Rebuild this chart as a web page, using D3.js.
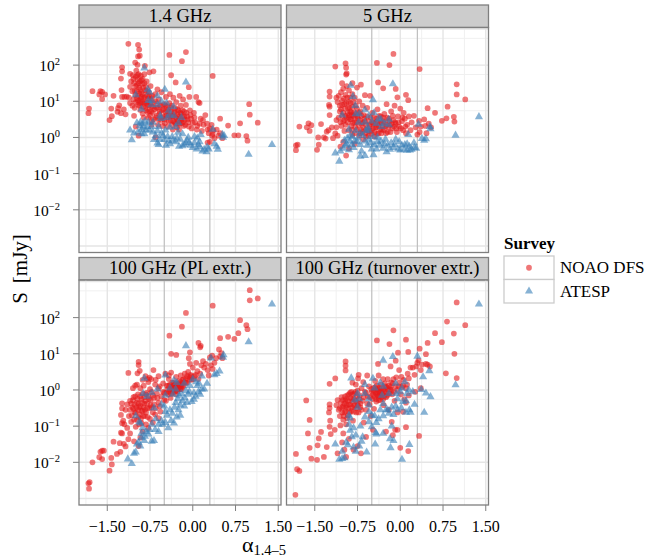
<!DOCTYPE html>
<html>
<head>
<meta charset="utf-8">
<script src="https://d3js.org/d3.v7.min.js"></script>
<style>
  html, body { margin: 0; padding: 0; background: #fff; }
  text { font-family: "Liberation Serif", serif; fill: #000; }
</style>
</head>
<body>
<div id="chart"></div>
<script>
// Every point is [spectral index alpha, log10 of S in mJy]
const noao14 = [[-1.13,2.59],[-0.96,2.56],[-0.94,2.43],[-0.93,2.26],[-0.96,2.24],[-0.41,2.28],[-0.12,2.36],[-0.19,2.11],[-1.01,2.07],[-0.97,2.01],[-1.24,1.94],[-0.84,1.98],[-1.24,1.83],[-0.69,1.83],[-0.76,1.8],[-0.38,1.72],[0.35,1.7],[-1.1,1.76],[-1.26,1.63],[-0.3,1.52],[-0.07,1.39],[-1.25,1.31],[-1.76,1.28],[-1.62,1.28],[-1.59,1.26],[-1.64,1.19],[-1.54,1.19],[-1.39,1.15],[-1.59,1.06],[-1.82,0.8],[-1.83,0.67],[-1.43,0.8],[-1.42,0.59],[-1.46,0.48],[-1.29,0.89],[-1.31,0.81],[-1.32,0.71],[-1.26,0.67],[-1.18,0.64],[-1.21,0.78],[0.99,0.92],[1,0.63],[1.14,0.41],[0.83,0.39],[0.62,0.33],[0.48,0.52],[0.8,0.06],[0.73,0.06],[0.94,0.04],[0.96,-0.09],
[-1.24,1.12],[-1.2,1.12],[-1.16,1.13],[-1.12,1.1],[-1.1,1.4],[-1.08,1.55],[-1.05,1.72],[-1.03,1.5],[-1.02,1.3],[-1,1.68],[-0.99,1.85],[-0.98,1.45],[-0.97,1.6],[-0.96,1.15],[-0.95,1.75],[-0.94,1.38],[-0.93,1.55],[-0.92,0.95],[-0.91,1.7],[-0.9,1.25],[-0.89,1.48],[-0.88,1.62],[-0.87,0.85],[-0.86,1.1],[-0.85,1.75],[-1.1,0.95],[-1.06,0.88],[-1.04,1.05],[-1.02,0.82],[-1,0.97],[-0.98,1.08],[-0.96,0.9],[-0.94,1.02],[-0.92,0.76],[-0.9,1.12],[-0.88,0.66],[-0.84,0.98],[-0.83,1.3],[-0.82,0.75],[-0.81,1.55],[-0.8,1.15],[-0.79,0.9],[-0.78,0.55],[-0.77,1.25],[-0.76,0.72],[-0.75,1.05],[-0.74,1.42],[-0.73,0.85],[-0.72,0.45],[-0.71,1.15],[-0.7,0.68],[-0.68,0.95],[-0.66,1.2],[-0.65,0.55],[-0.64,0.82],[-0.62,1.33],[-0.61,0.35],[-0.6,1.05],[-0.59,0.65],[-0.58,0.9],[-0.56,0.48],[-0.55,1.25],[-0.54,0.75],[-0.52,0.58],[-0.5,0.92],[-0.49,0.4],[-0.48,0.7],[-0.47,1.12],[-0.46,0.85],[-0.45,0.55],[-0.44,0.3],[-0.43,0.78],[-0.42,0.62],[-0.41,0.95],[-0.4,1.2],[-0.39,0.47],[-0.38,0.72],[-0.37,0.88],[-0.36,0.35],[-0.35,0.58],[-0.34,1.1],[-0.33,0.68],[-0.32,0.42],[-0.31,0.82],[-0.3,0.55],[-0.29,0.98],[-0.28,0.28],[-0.27,0.63],[-0.26,0.45],[-0.25,0.75],[-0.24,0.36],[-0.23,1.15],[-0.22,0.52],[-0.21,0.88],[-0.2,0.66],[-0.19,0.4],[-0.18,0.58],[-0.17,1.05],[-0.16,0.32],[-0.15,0.72],[-0.14,0.5],[-0.12,0.9],[-0.1,0.58],[-0.08,0.42],[-0.06,1.12],[-0.05,0.75],[-0.03,0.52],[-0.02,0.25],[0.02,0.68],[0.04,0.42],[0.06,1.12],[0.08,0.32],[0.1,0.98],[0.12,0.95],[0.14,0.52],[0.16,0.18],[0.19,0.35],[0.22,0.62],[0.25,0.38],[0.28,0.12],[0.3,0.25],[0.33,0.35],[0.36,0.2],[0.34,0.05],[0.38,-0.02],[0.42,0.22],[0.45,0.05],[0.48,0.12],[0.52,-0.02],[0.3,-0.12],[0.26,-0.14],[-0.65,0.0],[-0.95,0.05],[-1,0.3],[-1.03,0.6]];
const noao14Core = [[-1.06,1.28],[-1.04,1.62],[-1.01,1.18],[-1,1.42],[-0.98,1.28],[-0.97,1.72],[-0.96,1.02],[-0.95,1.5],[-0.94,1.22],[-0.93,0.88],[-0.92,1.32],[-0.91,1.08],[-0.9,1.58],[-0.89,0.98],[-0.88,1.2],[-0.87,1.38],[-0.86,0.94],[-0.85,1.5],[-0.84,1.12],[-0.83,0.82],[-0.82,1.4],[-0.81,0.96],[-0.8,1.28],[-0.79,0.7],[-0.78,1.08],[-0.77,0.88],[-0.76,1.15],[-0.75,0.6],[-0.74,0.95],[-0.73,0.72],[-0.72,1.08],[-0.7,0.85],[-0.69,0.5],[-0.67,0.78],[-0.65,1.0],[-0.63,0.6],[-0.62,0.82],[-0.6,0.5],[-0.58,0.72],[-0.56,0.88],[-0.54,0.55],[-0.52,0.78],[-0.5,0.5],[-0.48,0.88],[-0.46,0.62],[-0.44,0.72],[-0.42,0.45],[-0.4,0.58],[-0.38,0.82],[-0.36,0.6],[-0.34,0.45],[-0.32,0.7],[-0.3,0.38],[-0.28,0.52],[-0.27,0.78],[-0.25,0.58],[-0.23,0.4],[-0.22,0.68],[-0.2,0.48],[-0.18,0.75],[-0.17,0.42],[-0.15,0.58],[-0.13,0.35],[-0.11,0.68],[-0.09,0.5],[-0.07,0.3],[-0.04,0.62],[0,0.4],[0.03,0.55],[0.07,0.22],[0.12,0.38],[0.18,0.48],[0.26,0.22],[0.35,0.1],[-0.86,0.55],[-0.72,0.35],[-0.53,0.32],[-0.35,0.22],[-0.24,0.22]];
const atesp14 = [[1.39,-0.2],[0.98,-0.47],[-0.12,1.53],[-0.49,1.33],[-0.85,1.92],[-0.79,1.33],[-0.76,1.25],[-1,1.18],[-0.78,1.02],[-0.72,1.02],[-0.62,1.15],[-0.55,1.0],[-0.9,0.78],[-0.73,0.9],[-0.62,0.9],[-0.46,0.95],[-0.34,0.85],[-0.42,0.75],[-0.57,0.6],[-0.56,0.52],[-0.33,0.6],[-0.2,0.55],[-0.98,0.4],[-0.93,0.33],[-0.88,0.38],[-0.84,0.45],[-0.8,0.3],[-0.76,0.2],[-0.7,0.15],[-1.1,0.2],[-1.03,0.12],[-0.96,0.15],[-0.9,0.22],[-0.85,0.1],[-1.07,-0.07],[-0.62,0.18],[-0.55,0.12],[-0.68,-0.06],[-0.62,-0.16],[-0.6,-0.2],[-0.5,-0.06],[-0.47,-0.22],[-0.42,-0.1],[-0.36,0.02],[-0.4,-0.18],[-0.3,-0.12],[-0.26,0.14],[-0.22,-0.05],[-0.18,-0.23],[-0.24,-0.25],[-0.12,-0.16],[-0.08,0.0],[-0.04,-0.22],[0,-0.28],[0.03,-0.15],[0.07,-0.32],[0.12,-0.26],[0.14,0.08],[0.12,-0.12],[0.17,-0.38],[0.2,-0.33],[0.25,-0.27],[0.24,-0.4],[0.28,-0.32],[0.35,0.22],[0.38,-0.18],[0.42,-0.25],[0.44,-0.33],[0.52,0.08],[0.53,0.0],[0.55,0.05],[-0.78,0.42],[-0.7,0.42],[-0.6,0.3],[-0.48,0.2],[-0.4,0.28],[-0.92,0.42],[-0.87,0.28],[-0.82,0.2],[-0.9,0.1],[-0.72,0.3],[-0.65,0.05],[-0.58,-0.05],[-0.52,0.05],[-0.44,0.02],[-0.35,-0.08],[-0.28,-0.02],[-0.18,0.1],[-0.1,-0.08],[-0.15,-0.2],[-0.06,-0.14],[0.03,0.02],[0.1,-0.2],[0.08,-0.02],[-0.3,0.3],[-0.25,0.4],[-0.45,0.55],[-0.4,0.62]];
const noao5 = [[-0.12,2.31],[-0.41,2.06],[-0.19,2],[0.34,1.89],[-0.96,2.05],[-1.14,1.96],[-0.95,1.93],[-0.94,1.77],[-0.95,1.74],[-0.39,1.52],[-1.02,1.5],[-0.3,1.36],[-0.08,1.34],[-0.84,1.5],[-0.69,1.46],[-0.76,1.38],[-1.24,1.27],[-1.24,1.13],[-0.62,1.17],[-0.53,1.15],[0.99,1.47],[0.99,1.19],[1.14,1.05],[0.83,0.85],[0.48,0.81],[0.61,0.68],[0.1,1.18],[0.14,1.03],[-0.05,1.11],[0.94,0.57],[0.95,0.44],[0.81,0.53],[0.73,0.46],[-1.77,0.3],[-1.61,0.39],[-1.56,0.34],[-1.64,0.28],[-1.59,0.18],[-1.39,0.37],[-1.83,-0.22],[-1.8,-0.2],[-1.83,-0.35],[-1.46,-0.34],[-1.43,-0.2],[-1.44,0],[-1.34,0],[-1.29,0.16],[-1.31,-0.03],[-1.18,-0.02],[-1.14,0.11],[-1.24,0.62],[-1.25,0.9],[-1.24,0.85],[-1.2,0.28],[-1.26,0.2],[-1.12,0.48],
[-1.12,1.1],[-1.1,0.98],[-1.08,1.15],[-1.06,0.88],[-1.04,1.25],[-1.02,1.02],[-1,1.35],[-0.98,0.92],[-0.96,1.18],[-0.94,1.42],[-0.92,0.82],[-0.9,1.3],[-0.88,1.1],[-0.86,0.7],[-0.84,1.2],[-1.08,0.55],[-1.05,0.42],[-1.03,0.32],[-1.02,0.6],[-1,0.45],[-0.98,0.18],[-0.96,0.35],[-0.94,0.55],[-0.92,0.42],[-0.9,0.2],[-0.88,0.5],[-0.86,0.32],[-0.84,0.08],[-0.82,0.6],[-0.8,0.42],[-0.78,0.88],[-0.76,0.22],[-0.74,0.52],[-0.72,0.05],[-0.7,0.72],[-0.68,0.38],[-0.66,0.15],[-0.64,0.62],[-0.62,0.45],[-0.6,0.22],[-0.58,0.82],[-0.56,0.05],[-0.54,0.35],[-0.52,0.55],[-0.5,0.18],[-0.49,0.68],[-0.47,0.4],[-0.45,0.02],[-0.43,0.28],[-0.42,0.52],[-0.4,0.78],[-0.38,0.12],[-0.36,0.38],[-0.34,0.58],[-0.32,0.22],[-0.3,0.45],[-0.28,0.65],[-0.26,0.3],[-0.24,0.92],[-0.22,0.15],[-0.2,0.52],[-0.18,0.35],[-0.16,0.72],[-0.14,0.25],[-0.12,0.48],[-0.1,0.88],[-0.08,0.38],[-0.06,0.15],[-0.04,0.58],[-0.02,0.3],[0,0.8],[0.03,0.45],[0.05,0.2],[0.06,0.68],[0.08,0.52],[0.1,0.12],[0.12,0.35],[0.15,0.58],[0.18,0.2],[0.2,0.42],[0.24,0.6],[0.27,0.28],[0.3,0.08],[0.33,0.46],[0.36,0.3],[0.34,0.15],[0.42,0.5],[0.44,0.32],[0.46,0.12],[0.5,0.38],[0.54,0.28],[-0.65,-0.05],[-0.9,-0.3],[-1,-0.12],[-1.05,-0.25],[-0.95,-0.5],[-0.8,-0.18],[-0.6,0.02],[-1.1,0.05],[-1.12,0.28],[-1.06,0.72],[-0.88,0.72],[-0.8,1.1],[-0.72,1.0],[-0.66,0.88]];
const noao5Core = [[-1.04,0.78],[-1.02,0.9],[-1,0.68],[-0.99,1.08],[-0.97,0.8],[-0.96,0.6],[-0.95,0.95],[-0.93,1.1],[-0.92,0.68],[-0.91,0.98],[-0.9,0.55],[-0.89,0.82],[-0.87,0.95],[-0.86,0.5],[-0.85,0.62],[-0.84,0.85],[-0.83,0.4],[-0.82,0.98],[-0.81,0.7],[-0.8,0.55],[-0.79,0.28],[-0.78,0.65],[-0.77,0.42],[-0.76,0.8],[-0.75,0.58],[-0.73,0.35],[-0.72,0.68],[-0.71,0.48],[-0.69,0.22],[-0.68,0.6],[-0.66,0.42],[-0.65,0.28],[-0.63,0.52],[-0.61,0.12],[-0.6,0.35],[-0.58,0.58],[-0.57,0.2],[-0.55,0.45],[-0.53,0.3],[-0.51,0.1],[-0.49,0.42],[-0.48,0.25],[-0.46,0.55],[-0.45,0.15],[-0.44,0.38],[-0.42,0.28],[-0.41,0.1],[-0.4,0.45],[-0.38,0.32],[-0.37,0.6],[-0.35,0.22],[-0.34,0.42],[-0.33,0.12],[-0.31,0.32],[-0.3,0.55],[-0.29,0.2],[-0.27,0.42],[-0.25,0.12],[-0.24,0.35],[-0.23,0.55],[-0.21,0.28],[-0.19,0.45],[-0.17,0.15],[-0.15,0.38],[-0.13,0.6],[-0.11,0.3],[-0.09,0.42],[-0.07,0.25],[-0.03,0.42],[0.01,0.25],[0.04,0.55],[0.09,0.3],[-0.98,0.48],[-0.9,0.62],[-0.85,0.22],[-0.8,0.12],[-0.7,0.12],[-0.55,0.18]];
const atesp5 = [[1.38,0.57],[0.97,0.06],[-0.13,1.48],[-0.48,1.04],[-0.87,1.44],[-0.83,1.13],[-0.79,0.88],[-1.02,0.62],[-0.78,0.65],[-0.72,0.65],[-0.62,0.76],[-0.55,0.6],[-0.9,0.22],[-0.73,0.42],[-0.62,0.42],[-0.46,0.68],[-0.34,0.5],[-0.42,0.38],[-0.57,0.28],[-0.56,0.2],[-0.33,0.3],[-0.2,0.35],[-0.98,-0.08],[-0.93,-0.02],[-0.88,0.05],[-0.84,0.02],[-0.8,-0.1],[-0.76,-0.12],[-0.7,-0.2],[-1.14,-0.43],[-1.05,-0.38],[-0.96,-0.22],[-0.9,-0.34],[-0.85,-0.2],[-1.07,-0.66],[-0.62,-0.1],[-0.55,-0.05],[-0.68,-0.38],[-0.62,-0.5],[-0.7,-0.52],[-0.5,-0.32],[-0.47,-0.48],[-0.42,-0.32],[-0.36,-0.22],[-0.4,-0.12],[-0.3,-0.3],[-0.26,-0.05],[-0.22,-0.22],[-0.18,-0.33],[-0.24,-0.4],[-0.12,-0.28],[-0.08,-0.05],[-0.04,-0.32],[0,-0.35],[0.03,-0.22],[0.07,-0.33],[0.12,-0.36],[0.14,0.08],[0.12,-0.18],[0.17,-0.35],[0.2,-0.33],[0.25,-0.28],[0.24,-0.15],[0.28,-0.3],[0.32,0.36],[0.38,-0.03],[0.42,-0.08],[0.45,-0.04],[0.52,0.3],[0.53,0.24],[-0.78,0.18],[-0.7,0.12],[-0.6,0.18],[-0.48,0.02],[-0.4,0.0],[-1,-0.3],[-0.94,-0.18],[-0.88,-0.1],[-0.82,-0.28],[-0.74,-0.02],[-0.66,0.05],[-0.58,-0.22],[-0.52,-0.15],[-0.46,-0.2],[-0.34,-0.1],[-0.28,-0.18],[-0.16,-0.15],[-0.1,-0.2],[-0.02,-0.12],[0.08,-0.2],[0.16,-0.25],[-0.28,0.38],[-0.2,0.5],[-0.38,0.52],[-0.5,0.45]];
const noaoPL = [[1,2.76],[1,2.48],[1.14,2.53],[0.35,2.33],[-0.12,2.13],[0.83,1.93],[-0.19,1.75],[0.94,1.79],[0.96,1.68],[0.8,1.57],[-0.41,1.5],[0.62,1.47],[0.48,1.43],[0.73,1.41],[0.1,1.3],[0.14,1.22],[0.13,1.18],[-0.38,1],[-0.29,0.97],[-0.05,1.04],[-0.07,0.88],[-0.95,0.78],[-0.95,0.69],[-0.93,0.53],[-1.13,0.47],[-0.97,0.46],[-0.69,0.55],[-0.83,0.38],[-0.76,0.34],[-0.73,0.3],[-1.83,-2.58],[-1.82,-2.73],[-1.81,-2.55],[-1.46,-2.23],[-1.42,-2.06],[-1.43,-1.88],[-1.76,-2],[-1.64,-1.86],[-1.59,-1.91],[-1.62,-1.71],[-1.59,-1.68],[-1.56,-1.68],[-1.39,-1.43],[-1.33,-1.77],[-1.27,-1.71],[-1.28,-1.47],[-1.18,-1.56],[-1.21,-1.49],[-1.13,-1.36],[-1.24,-1.2],[-1.24,-0.92],[-1.26,-0.69],[-1.24,-0.37],[-1.24,-0.51],
[-1.26,-1.18],[-1.2,-0.95],[-1.18,-0.55],[-1.15,-0.4],[-1.12,-0.72],[-1.1,-0.3],[-1.08,-0.88],[-1.06,-0.48],[-1.04,-0.2],[-1.02,-0.62],[-1,-1.02],[-0.98,-0.35],[-0.96,-0.12],[-1.01,0.12],[-0.95,-0.75],[-0.94,-0.48],[-0.92,0.05],[-0.9,-0.92],[-0.9,-0.25],[-0.88,-0.58],[-0.86,0.12],[-0.85,-0.38],[-0.84,-0.72],[-0.82,-0.12],[-0.8,-0.5],[-0.78,0.22],[-0.77,-0.25],[-0.75,-0.8],[-0.74,-0.42],[-0.72,-0.05],[-0.7,-0.62],[-0.68,-0.22],[-0.66,0.15],[-0.65,-0.5],[-0.63,-0.1],[-0.6,-0.35],[-0.58,0.1],[-0.57,-0.6],[-0.55,-0.18],[-0.52,0.18],[-0.5,-0.08],[-0.48,0.45],[-0.47,-0.3],[-0.45,0.12],[-0.43,-0.12],[-0.42,0.3],[-0.4,0.02],[-0.39,-0.22],[-0.38,0.48],[-0.36,0.1],[-0.35,-0.02],[-0.33,0.2],[-0.31,0.08],[-0.3,-0.12],[-0.29,0.36],[-0.28,0],[-0.26,0.14],[-0.24,0.25],[-0.22,0.02],[-0.21,0.4],[-0.2,0.15],[-0.18,0.08],[-0.16,0.3],[-0.14,0.45],[-0.12,0.2],[-0.1,0.38],[-0.08,0.5],[-0.06,0.35],[-0.05,0.72],[-0.04,0.42],[-0.02,0.28],[0,0.62],[0.03,0.38],[0.06,0.75],[0.08,0.52],[0.1,0.3],[0.13,0.45],[0.15,0.68],[0.18,0.8],[0.2,0.62],[0.23,0.72],[0.26,0.55],[0.28,0.4],[0.3,0.9],[0.32,0.68],[0.34,0.95],[0.35,0.58],[0.38,0.75],[0.41,0.88],[0.46,1.12],[0.48,0.93],[0.5,1.02],[0.52,0.88],[-0.88,-1.15],[-0.82,-0.95],[-0.92,-1.32],[-0.78,-1.05],[-1.03,-1.42],[-0.95,-1.55],[-1.1,-1.2],[-0.7,-0.9],[-0.6,-0.78],[-1.15,-1.05],[-1.22,-0.85],[-1.05,0.05],[-0.98,0.15],[-0.88,0.28],[-0.8,0.3],[-0.65,0.28],[-0.6,0.38],[-0.42,0.4]];
const noaoPLCore = [[-1.1,-0.55],[-1.08,-0.38],[-1.07,-0.7],[-1.05,-0.28],[-1.04,-0.52],[-1.03,-0.82],[-1.02,-0.4],[-1.01,-0.18],[-1,-0.62],[-0.99,-0.48],[-0.98,-0.82],[-0.97,-0.25],[-0.96,-0.55],[-0.95,-0.38],[-0.94,-0.95],[-0.93,-0.68],[-0.92,-0.18],[-0.92,-0.45],[-0.91,-0.8],[-0.9,-0.58],[-0.89,-0.35],[-0.88,-0.1],[-0.87,-0.72],[-0.86,-0.48],[-0.85,-0.2],[-0.84,-0.55],[-0.83,-0.3],[-0.82,-0.62],[-0.81,-0.08],[-0.8,-0.38],[-0.79,-0.75],[-0.78,-0.18],[-0.76,-0.5],[-0.75,0.02],[-0.74,-0.28],[-0.72,-0.48],[-0.7,-0.15],[-0.68,-0.4],[-0.66,-0.68],[-0.62,-0.22],[-0.6,0.05],[-0.58,-0.45],[-0.52,-0.05],[-0.5,-0.28],[-0.46,-0.08],[-0.44,0.02],[-0.43,0.12],[-0.41,-0.05],[-0.4,0.15],[-0.38,-0.1],[-0.37,0.05],[-0.36,0.2],[-0.35,-0.08],[-0.34,0.1],[-0.33,0.02],[-0.32,0.14],[-0.31,-0.04],[-0.3,0.06],[-0.29,0.18],[-0.28,0.1],[-0.27,-0.04],[-0.26,0.05],[-0.25,0.16],[-0.24,0.02],[-0.23,0.12],[-0.22,0.22],[-0.21,0.08],[-0.2,0.02],[-0.19,0.18],[-0.18,0.28],[-0.16,0.12],[-0.14,0.22],[-0.12,0.32],[-0.1,0.2],[-0.06,0.28],[-0.03,0.38],[0.01,0.3],[0.05,0.42]];
const atespPL = [[1.39,2.37],[0.98,1.33],[-0.12,1.22],[0.54,0.97],[0.53,0.9],[0.32,0.88],[-0.48,0.41],[-0.85,0.32],[-1.14,-1.91],[-1.07,-2.04],[-0.33,0.27],[-0.28,0.2],[-0.15,0.18],[0,0.3],[0.16,0.38],[0.25,0.18],[0.47,0.52],[0.42,0.45],[0.38,0.42],[0.2,0.02],[0.16,0.02],[0.1,-0.05],[0.05,-0.18],[0.02,-0.26],[-0.02,-0.32],[-0.08,-0.12],[-0.1,-0.35],[-0.15,-0.45],[-0.18,-0.3],[-0.22,-0.7],[-0.25,-0.55],[-0.28,-0.75],[-0.33,-0.92],[-0.38,-0.85],[-0.43,-1.05],[-0.48,-0.9],[-0.53,-0.95],[-0.6,-1.15],[-0.68,-1.4],[-0.72,-1.42],[-0.78,-1.22],[-0.85,-1.4],[-0.9,-1.32],[-0.92,-1.55],[-0.95,-1.45],[-1,-1.72],[-1.03,-1.75],[-0.88,-1.05],[-0.92,-0.92],[-0.82,-1.15],[-0.72,-0.95],[-0.65,-0.8],[-0.55,-0.4],[-0.5,-0.45],[-0.68,-0.5],[-0.8,-0.18],[-0.87,-0.1],[-1,-0.72],[-0.94,-0.88],[-0.62,0.02],[-0.72,-0.08],[-0.48,-0.15],[-0.4,0.05],[-0.35,-0.12],[-0.3,-0.35],[-0.2,-0.1],[-0.12,-0.02],[-0.05,0.12],[0.08,0.12],[0.13,-0.12],[-0.3,0.02],[-0.48,-0.6],[-0.55,-0.85],[-0.22,-0.42],[-0.98,-1.5],[-0.9,-1.2],[-0.84,-1.28],[-0.76,-1.1],[-0.66,-1.1],[-0.6,-0.95],[-0.45,-0.7],[-0.4,-0.55],[-0.36,-0.65],[-0.32,-0.48],[-0.26,-0.25],[-0.24,-0.15],[-0.14,-0.22],[-0.06,-0.05],[0.02,-0.08],[0.11,0.18],[0.06,0.22]];
const noaoTurn = [[0.99,2.42],[0.82,1.89],[1.14,1.79],[0.94,1.56],[0.61,1.57],[-0.12,1.65],[-0.41,1.37],[0.1,1.39],[-0.19,1.27],[0.48,1.3],[0.73,1.32],[0.34,1.14],[-0.04,1.03],[0.14,1.05],[0.45,0.99],[0.95,1],[-0.39,0.72],[-0.17,0.65],[-0.08,0.81],[0.8,0.46],[0.99,0.33],[-0.96,0.79],[-0.96,0.67],[-0.96,0.54],[-1.14,0.32],[-1.24,0.17],[-1.65,-0.29],[-1.59,-0.83],[-1.62,-1.2],[-1.39,-1.16],[-1.43,-1.34],[-1.45,-1.53],[-1.59,-1.6],[-1.83,-1.77],[-1.56,-1.9],[-1.46,-1.93],[-1.34,-1.85],[-1.29,-1.58],[-1.81,-2.19],[-1.77,-2.24],[-1.84,-2.9],[0.33,-1.27],[0,-1.6],[0.14,-1.69],[0.1,-1.03],
[-1.24,-0.4],[-1.24,-0.5],[-1.25,-0.62],[-1.23,-0.85],[-1.24,-1.02],[-1.22,-1.22],[-1.15,-1.1],[-1.12,-0.42],[-1.1,-0.28],[-1.08,-0.55],[-1.06,-0.72],[-1.05,-0.98],[-1.03,-0.2],[-1.02,-0.48],[-1,-0.82],[-1,-1.2],[-0.98,-0.62],[-0.96,-0.3],[-0.95,-0.48],[-0.95,-0.95],[-0.93,-0.15],[-0.92,-0.7],[-0.9,-0.4],[-0.9,-1.35],[-0.88,-0.08],[-0.86,-0.58],[-0.85,-0.25],[-0.84,0.2],[-0.83,-0.85],[-0.81,-0.45],[-0.8,-0.1],[-0.78,0.15],[-0.77,-0.62],[-0.75,-0.35],[-0.74,0.32],[-0.73,0.42],[-0.71,-0.15],[-0.7,-0.48],[-0.69,-1.75],[-0.68,0.05],[-0.66,-0.3],[-0.65,0.22],[-0.64,-0.9],[-0.62,-0.05],[-0.6,-0.55],[-0.58,0.4],[-0.57,-0.18],[-0.55,0.1],[-0.54,-0.4],[-0.52,-0.72],[-0.5,-0.05],[-0.49,-0.25],[-0.47,0.05],[-0.46,-0.52],[-0.44,0.25],[-0.43,-0.1],[-0.42,-0.32],[-0.4,0.02],[-0.39,-0.18],[-0.38,0.4],[-0.36,-0.05],[-0.35,-0.28],[-0.34,0.15],[-0.32,-0.12],[-0.3,0.3],[-0.29,-0.42],[-0.28,-0.02],[-0.27,0.18],[-0.25,-0.2],[-0.24,0.08],[-0.22,0.3],[-0.21,-0.1],[-0.2,-0.55],[-0.18,0.02],[-0.16,0.2],[-0.15,-0.88],[-0.14,-0.12],[-0.13,-1.25],[-0.12,0.3],[-0.1,-0.3],[-0.09,-1.1],[-0.07,0.35],[-0.05,-0.62],[-0.03,0.1],[-0.02,0.55],[0.01,-0.12],[0.02,0.36],[0.05,0.12],[0.07,-0.25],[0.1,0.05],[0.13,0.45],[0.15,0.32],[0.15,-0.15],[0.18,0.62],[0.22,0.62],[0.25,0.42],[0.26,-0.05],[0.28,0.65],[0.3,0.75],[0.32,0.82],[0.36,0.05],[0.36,0.55],[0.38,0.7],[0.45,0.72],[0.48,0.7],[0.52,0.65],[-1.1,-1.75],[-1.02,-1.45],[-0.98,-1.65],[-0.95,-1.85],[-0.82,-1.65],[-0.75,-1.55],[-0.6,-1.3],[-0.48,-1.1],[-0.25,-1.15],[0.05,-0.6],[0.1,-0.35],[-0.05,-1.1]];
const noaoTurnCore = [[-1.06,-0.5],[-1.04,-0.35],[-1.02,-0.62],[-1.01,-0.28],[-1,-0.45],[-0.99,-0.72],[-0.98,-0.38],[-0.97,-0.18],[-0.96,-0.58],[-0.95,-0.25],[-0.94,-0.42],[-0.93,-0.78],[-0.92,-0.3],[-0.91,-0.52],[-0.9,-0.12],[-0.89,-0.62],[-0.88,-0.4],[-0.87,-0.22],[-0.86,-0.05],[-0.85,-0.48],[-0.84,-0.32],[-0.83,-0.12],[-0.82,-0.6],[-0.81,-0.25],[-0.8,-0.42],[-0.79,-0.05],[-0.78,-0.3],[-0.77,-0.5],[-0.76,-0.18],[-0.75,-0.02],[-0.74,-0.42],[-0.73,-0.62],[-0.72,-0.25],[-0.7,-0.38],[-0.68,-0.55],[-0.64,-0.2],[-0.6,-0.08],[-0.58,-0.38],[-0.53,-0.2],[-0.51,0.02],[-0.48,-0.12],[-0.46,-0.02],[-0.45,-0.18],[-0.44,0.08],[-0.43,-0.25],[-0.42,-0.06],[-0.41,0.12],[-0.4,-0.14],[-0.39,-0.02],[-0.38,-0.28],[-0.37,0.06],[-0.36,-0.16],[-0.35,-0.08],[-0.34,-0.02],[-0.33,-0.2],[-0.32,0.06],[-0.31,-0.1],[-0.3,-0.26],[-0.29,0.02],[-0.28,-0.16],[-0.26,0.1],[-0.25,-0.06],[-0.23,-0.16],[-0.22,0.02],[-0.2,0.12],[-0.19,-0.1],[-0.17,0.08],[-0.15,0.0],[-0.13,0.18],[-0.11,-0.05],[-0.08,0.1],[-0.05,0.0],[-0.02,0.2],[0.03,0.08],[0.06,0.28],[0.12,0.15]];
const atespTurn = [[1.38,2.37],[0.97,0.14],[0.3,0.93],[-0.13,0.92],[-0.3,0.82],[0.4,0.36],[0.51,0.53],[0.37,0.01],[0.53,-0.19],[0.45,-0.09],[0.42,-0.62],[0.03,-1.92],[0.16,-1.51],[-0.17,-1.6],[-0.44,-1.5],[-0.59,-1.72],[-1.07,-1.92],[-1.14,-1.5],[-0.86,0.33],[-0.48,0.32],[-0.3,0.1],[-0.35,0.2],[-0.08,0.18],[0.08,0.22],[0.15,0],[0.22,-0.05],[0.1,-0.3],[0.16,-0.55],[0.18,-0.62],[0.02,-0.5],[0.1,-0.62],[-0.05,-0.55],[-0.12,-0.68],[-0.2,-0.65],[-0.3,-0.72],[-0.38,-0.8],[-0.45,-0.72],[-0.55,-0.6],[-0.55,-0.88],[-0.5,-1.02],[-0.43,-1.18],[-0.3,-1.2],[-0.18,-1.35],[-0.12,-1.4],[-0.07,-0.1],[0,-0.05],[-0.55,-0.25],[-0.62,-0.1],[-0.72,-0.25],[-0.8,-0.28],[-0.75,-0.48],[-0.88,-0.78],[-0.9,-0.95],[-0.88,-1.12],[-0.85,-1.3],[-0.95,-1.45],[-0.92,-1.52],[-1.02,-1.7],[-1.02,-1.9],[-0.98,-1.88],[-0.82,-1.58],[-0.78,-1.7],[-0.72,-1.55],[-0.68,-1.42],[-0.66,-1.3],[-0.42,-0.9],[-0.25,-0.55],[-0.05,-0.25],[0.25,-0.4],[0.03,0.05],[-0.2,-0.1],[-0.45,0.05],[-0.75,-0.1],[-0.42,-1.22],[-0.15,-1.0],[-0.9,-0.7],[-0.82,-1.05],[-0.78,-1.25],[-0.7,-1.0],[-0.62,-0.75],[-0.55,-0.42],[-0.5,-0.7],[-0.35,-0.55],[-0.3,-0.38],[-0.22,-0.55],[-0.15,-0.48],[-0.08,-0.45],[0.05,-0.32],[0.12,-0.1],[-0.32,-0.15],[-0.62,0.15]];

const panelLabels = ["1.4 GHz", "5 GHz", "100 GHz (PL extr.)", "100 GHz (turnover extr.)"];
const noaoSeries = [noao14.concat(noao14Core), noao5.concat(noao5Core), noaoPL.concat(noaoPLCore), noaoTurn.concat(noaoTurnCore)];
const atespSeries = [atesp14, atesp5, atespPL, atespTurn];
const surveyNames = ["NOAO DFS", "ATESP"];
const xTicks = [-1.5, -0.75, 0, 0.75, 1.5];
const xMinor = [-1.875, -1.125, -0.375, 0.375, 1.125];
const yTickExps = [2, 1, 0, -1, -2];
const yGridExps = [3, 2, 1, 0, -1, -2, -3];
const yMinorExps = [2.74, 1.74, 0.74, -0.26, -1.26, -2.26];
const cuts = [-0.5, 0.3];

// Layout
const width = 647;
const height = 559;
const panelW = 202;
const panelH = 225;
const stripH = 22.5;
const colX = [79, 286.5];
const rowY = [27.5, 280];

const red = "#E41A1C";
const blue = "#377EB8";

const svg = d3
  .select("#chart")
  .append("svg")
  .attr("width", width)
  .attr("height", height)
  .style("display", "block");

// Shared scales, the panels only differ by their offset
const x = d3.scaleLinear().domain([-1.996, 1.548]).range([0, panelW]);
const y = d3
  .scaleLog()
  .domain([Math.pow(10, -3.18), Math.pow(10, 3.04)])
  .range([panelH, 0]);

const circle = d3.symbol().type(d3.symbolCircle).size(26);
const triangle = d3.symbol().type(d3.symbolTriangle).size(29);

// Format an exponent with a real minus sign
const minus = (v) => String(v).replace("-", "\u2212");

panelLabels.forEach(function (label, i) {
  const col = i % 2;
  const row = Math.floor(i / 2);
  const g = svg
    .append("g")
    .attr("transform", `translate(${colX[col]},${rowY[row]})`);

  // Strip on top of the panel
  g.append("rect")
    .attr("x", 0)
    .attr("y", -stripH)
    .attr("width", panelW)
    .attr("height", stripH)
    .attr("fill", "#CCCCCC")
    .attr("stroke", "#7F7F7F")
    .attr("stroke-width", 1.3);
  g.append("text")
    .attr("x", panelW / 2)
    .attr("y", -stripH / 2 + 5.5)
    .attr("text-anchor", "middle")
    .style("font-size", "18.5px")
    .text(label);

  // Grid lines, minor first
  g.selectAll(".minor-x")
    .data(xMinor)
    .join("line")
    .attr("x1", (d) => x(d))
    .attr("x2", (d) => x(d))
    .attr("y1", 0)
    .attr("y2", panelH)
    .attr("stroke", "#F0F0F0")
    .attr("stroke-width", 1);
  g.selectAll(".minor-y")
    .data(yMinorExps)
    .join("line")
    .attr("x1", 0)
    .attr("x2", panelW)
    .attr("y1", (d) => y(Math.pow(10, d)))
    .attr("y2", (d) => y(Math.pow(10, d)))
    .attr("stroke", "#F0F0F0")
    .attr("stroke-width", 1);
  g.selectAll(".major-x")
    .data(xTicks)
    .join("line")
    .attr("x1", (d) => x(d))
    .attr("x2", (d) => x(d))
    .attr("y1", 0)
    .attr("y2", panelH)
    .attr("stroke", "#E5E5E5")
    .attr("stroke-width", 1.4);
  g.selectAll(".major-y")
    .data(yGridExps)
    .join("line")
    .attr("x1", 0)
    .attr("x2", panelW)
    .attr("y1", (d) => y(Math.pow(10, d)))
    .attr("y2", (d) => y(Math.pow(10, d)))
    .attr("stroke", "#E5E5E5")
    .attr("stroke-width", 1.4);

  // The two reference lines
  g.selectAll(".cut")
    .data(cuts)
    .join("line")
    .attr("x1", (d) => x(d))
    .attr("x2", (d) => x(d))
    .attr("y1", 0)
    .attr("y2", panelH)
    .attr("stroke", "#BEBEBE")
    .attr("stroke-width", 1.2);

  // Points, the ATESP triangles go on top
  g.selectAll(".noao")
    .data(noaoSeries[i])
    .join("path")
    .attr("d", circle)
    .attr("transform", (d) => `translate(${x(d[0])},${y(Math.pow(10, d[1]))})`)
    .attr("fill", red)
    .attr("fill-opacity", 0.6);
  g.selectAll(".atesp")
    .data(atespSeries[i])
    .join("path")
    .attr("d", triangle)
    .attr("transform", (d) => `translate(${x(d[0])},${y(Math.pow(10, d[1]))})`)
    .attr("fill", blue)
    .attr("fill-opacity", 0.6);

  // Panel border above everything
  g.append("rect")
    .attr("width", panelW)
    .attr("height", panelH)
    .attr("fill", "none")
    .attr("stroke", "#7F7F7F")
    .attr("stroke-width", 1.3);

  // y axis only in the left column
  if (col === 0) {
    const yTicks = g.selectAll(".ytick").data(yTickExps).join("g");
    yTicks
      .append("line")
      .attr("x1", -6)
      .attr("x2", 0)
      .attr("y1", (d) => y(Math.pow(10, d)))
      .attr("y2", (d) => y(Math.pow(10, d)))
      .attr("stroke", "#7F7F7F")
      .attr("stroke-width", 1);
    const labels = yTicks
      .append("text")
      .attr("x", -19)
      .attr("y", (d) => y(Math.pow(10, d)) + 6)
      .attr("text-anchor", "end")
      .style("font-size", "15.5px");
    labels.append("tspan").text("10");
    labels
      .append("tspan")
      .attr("dy", -6)
      .style("font-size", "10.5px")
      .text((d) => minus(d));
  }

  // x axis only in the bottom row
  if (row === 1) {
    const xAxisTicks = g.selectAll(".xtick").data(xTicks).join("g");
    xAxisTicks
      .append("line")
      .attr("x1", (d) => x(d))
      .attr("x2", (d) => x(d))
      .attr("y1", panelH)
      .attr("y2", panelH + 6)
      .attr("stroke", "#7F7F7F")
      .attr("stroke-width", 1);
    xAxisTicks
      .append("text")
      .attr("x", (d) => x(d))
      .attr("y", panelH + 26.5)
      .attr("text-anchor", "middle")
      .style("font-size", "16px")
      .text((d) => minus(d3.format(".2f")(d)));
  }
});

// Axis titles
const yTitle = svg
  .append("text")
  .attr("transform", "translate(27,269) rotate(-90)")
  .attr("text-anchor", "middle")
  .style("font-size", "21px");
yTitle.append("tspan").text("S");
yTitle.append("tspan").attr("dx", 9).text("[mJy]");

const xTitle = svg
  .append("text")
  .attr("x", 264)
  .attr("y", 552)
  .attr("text-anchor", "middle");
xTitle.append("tspan").style("font-size", "22px").text("\u03B1");
xTitle
  .append("tspan")
  .attr("dy", 3)
  .style("font-size", "14.5px")
  .text("1.4\u20135");

// Legend
const legendX = 504;
const keyW = 50;
const keyH = 23.5;
const legendY = 256;
svg
  .append("text")
  .attr("x", legendX)
  .attr("y", 249)
  .style("font-size", "17px")
  .style("font-weight", "bold")
  .text("Survey");

const legendRows = svg
  .selectAll(".legend-row")
  .data(surveyNames)
  .join("g")
  .attr("transform", (d, i) => `translate(${legendX},${legendY + i * keyH})`);
legendRows
  .append("rect")
  .attr("width", keyW)
  .attr("height", keyH)
  .attr("fill", "#fff")
  .attr("stroke", "#CCCCCC")
  .attr("stroke-width", 1.3);
legendRows
  .append("path")
  .attr("d", (d, i) => (i === 0 ? circle() : triangle()))
  .attr("transform", `translate(${keyW / 2},${keyH / 2})`)
  .attr("fill", (d, i) => (i === 0 ? red : blue))
  .attr("fill-opacity", 0.6);
legendRows
  .append("text")
  .attr("x", keyW + 6)
  .attr("y", keyH / 2 + 5.5)
  .style("font-size", "17px")
  .text((d) => d);
</script>
</body>
</html>
